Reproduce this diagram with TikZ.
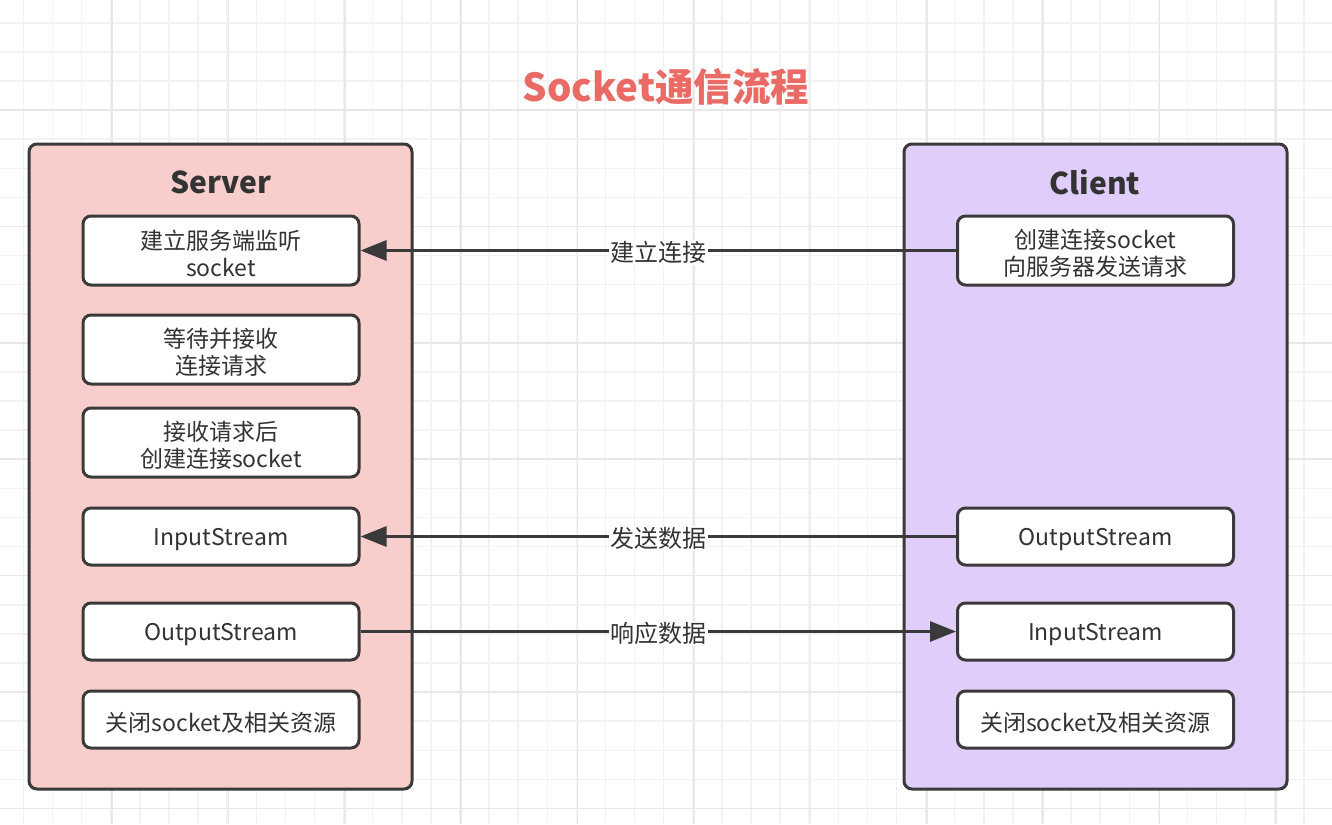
\documentclass[tikz,border=0pt]{standalone}
\usepackage{fontspec}
\setmainfont{Noto Sans CJK SC}
\usetikzlibrary{arrows.meta}
\definecolor{srvfill}{HTML}{F8CECC}
\definecolor{clifill}{HTML}{E1CDF9}
\definecolor{edgec}{HTML}{3A3A3A}
\definecolor{txt}{HTML}{333333}
\definecolor{ttl}{HTML}{EA6B66}
\definecolor{gminor}{HTML}{F3F3F3}
\definecolor{gmajor}{HTML}{E8E8E8}
\tikzset{
  container/.style={draw=edgec, line width=3pt, rounded corners=8pt, inner sep=0pt},
  stepbox/.style={draw=edgec, line width=3pt, fill=white, rounded corners=8pt,
    minimum width=276pt, inner sep=0pt},
  steptext/.style={text=txt, align=center, inner sep=0pt, yshift=-3pt,
    font=\fontsize{23}{27}\selectfont},
  head/.style={text=txt, font=\fontsize{30}{34}\selectfont\bfseries},
  conn/.style={draw=edgec, line width=3pt, -{Triangle[length=26pt,width=20pt]}},
  lbl/.style={fill=white, text=txt, inner sep=1.5pt, yshift=-2pt, font=\fontsize{24}{28}\selectfont}
}
\begin{document}
\begin{tikzpicture}[x=1pt,y=-1pt]
\useasboundingbox (0,0) rectangle (1332,824);
\fill[white] (0,0) rectangle (1332,824);
\foreach \i in {0,...,46} {
  \draw[gminor, line width=1.5pt] ({-5.6+\i*29.1},0) -- ({-5.6+\i*29.1},824);
}
\foreach \i in {0,...,29} {
  \draw[gminor, line width=1.5pt] (0,{-6.3+\i*29.1}) -- (1332,{-6.3+\i*29.1});
}
\foreach \i in {0,...,11} {
  \draw[gmajor, line width=1.5pt] ({-4.4+\i*116.4},0) -- ({-4.4+\i*116.4},824);
}
\foreach \i in {0,...,7} {
  \draw[gmajor, line width=1.5pt] (0,{-6.4+\i*116.4}) -- (1332,{-6.4+\i*116.4});
}

\node[text=ttl, font=\fontsize{38.5}{42}\selectfont\bfseries] (title) at (666,87) {Socket通信流程};

\node[container, fill=srvfill, minimum width=383pt, minimum height=645pt] (srv) at (220.5,466.5) {};
\node[container, fill=clifill, minimum width=383pt, minimum height=645pt] (cli) at (1095.5,466.5) {};
\node[head] (srvh) at (221,182) {Server};
\node[head] (clih) at (1095,182) {Client};

\node[stepbox, minimum height=69pt] (s1) at (221,250.5) {};
\node[steptext] (s1t) at (s1) {建立服务端监听\\socket};
\node[stepbox, minimum height=69pt] (s2) at (221,349.5) {};
\node[steptext] (s2t) at (s2) {等待并接收\\连接请求};
\node[stepbox, minimum height=69pt] (s3) at (221,442.5) {};
\node[steptext] (s3t) at (s3) {接收请求后\\创建连接socket};
\node[stepbox, minimum height=57pt] (s4) at (221,536.5) {};
\node[steptext] (s4t) at (s4) {InputStream};
\node[stepbox, minimum height=57pt] (s5) at (221,631.5) {};
\node[steptext] (s5t) at (s5) {OutputStream};
\node[stepbox, minimum height=57pt] (s6) at (221,719.5) {};
\node[steptext] (s6t) at (s6) {关闭socket及相关资源};

\node[stepbox, minimum height=69pt] (c1) at (1095.5,250.5) {};
\node[steptext] (c1t) at (c1) {创建连接socket\\向服务器发送请求};
\node[stepbox, minimum height=57pt] (c2) at (1095.5,536.5) {};
\node[steptext] (c2t) at (c2) {OutputStream};
\node[stepbox, minimum height=57pt] (c3) at (1095.5,631.5) {};
\node[steptext] (c3t) at (c3) {InputStream};
\node[stepbox, minimum height=57pt] (c4) at (1095.5,719.5) {};
\node[steptext] (c4t) at (c4) {关闭socket及相关资源};

\draw[conn] (c1.west) -- node[lbl] {建立连接} (s1.east);
\draw[conn] (c2.west) -- node[lbl] {发送数据} (s4.east);
\draw[conn] (s5.east) -- node[lbl] {响应数据} (c3.west);
\end{tikzpicture}
\end{document}
